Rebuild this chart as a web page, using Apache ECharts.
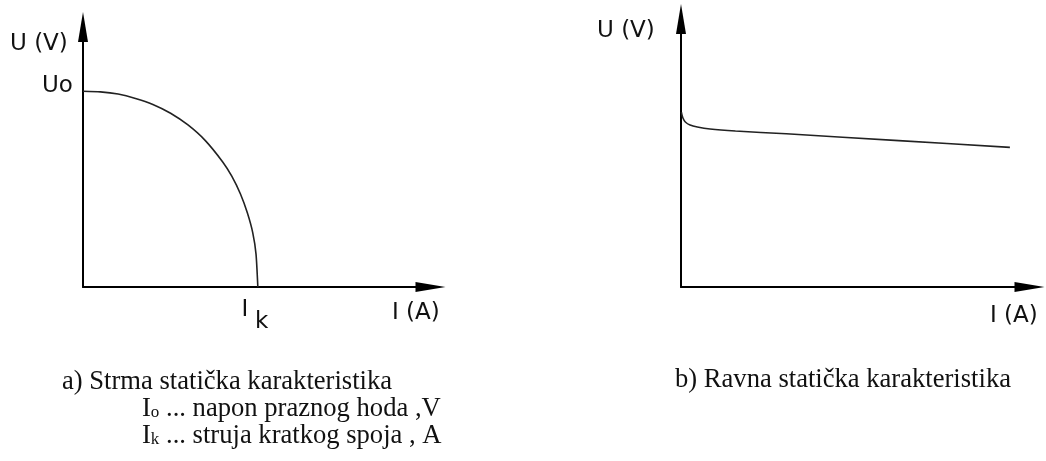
<!DOCTYPE html>
<html>
<head>
<meta charset="utf-8">
<script src="https://cdn.jsdelivr.net/npm/echarts@6/dist/echarts.min.js"></script>
<style>
html,body{margin:0;padding:0;background:#fff;}
#c{width:1046px;height:461px;}
</style>
</head>
<body>
<div id="c"></div>
<script>
// Left chart: steep static characteristic (current I, voltage U)
const steepI = [0, 0.48, 0.97, 1.45, 1.93, 2.42, 2.90, 3.38, 3.86, 4.11, 4.35, 4.54, 4.69, 4.78, 4.83];
const steepU = [7.15, 7.13, 7.05, 6.89, 6.67, 6.35, 5.92, 5.35, 4.57, 4.05, 3.40, 2.71, 1.98, 1.20, 0];
// Right chart: flat static characteristic
const flatI = [0.01, 0.05, 0.12, 0.25, 0.45, 0.8, 1.5, 2.9, 6.0, 9.06];
const flatU = [6.2, 6.0, 5.85, 5.74, 5.67, 5.6, 5.53, 5.43, 5.19, 4.95];
// Texts
const axisYLabel = 'U (V)';
const axisXLabel = 'I (A)';
const captionA = ['a) Strma statička karakteristika', '... napon praznog hoda ,V', '... struja kratkog spoja , A'];
const captionB = 'b) Ravna statička karakteristika';

const steepData = steepI.map((v, i) => [v, steepU[i]]);
const flatData = flatI.map((v, i) => [v, flatU[i]]);

const chart = echarts.init(document.getElementById('c'));
const axisLine = {
  show: true,
  onZero: false,
  symbol: ['none', 'triangle'],
  symbolSize: [10, 30],
  lineStyle: { color: '#000', width: 2 }
};
const hiddenBits = {
  axisTick: { show: false },
  axisLabel: { show: false },
  splitLine: { show: false }
};
const sans = '"DejaVu Sans", sans-serif';
const serif = '"Liberation Serif", "Times New Roman", serif';
const capSize = 26.6;
function txt(text, x, y, size, family, align) {
  return {
    type: 'text', x: x, y: y,
    style: { text: text, fontSize: size, fontFamily: family, fill: '#111', align: align || 'left', verticalAlign: 'middle' }
  };
}
function subCaption(sub, text, y) {
  return {
    type: 'text', x: 142, y: y,
    style: { text: '{m|I}{s|' + sub + '} ' + text, fontSize: capSize, fontFamily: serif, fill: '#111', verticalAlign: 'middle',
      rich: { m: { fontSize: capSize, fontFamily: serif, fill: '#111' },
              s: { fontSize: 17, fontFamily: serif, fill: '#111', padding: [8, 0, 0, 0] } } }
  };
}
chart.setOption({
  animation: false,
  backgroundColor: '#fff',
  grid: [
    { left: 83, top: 27, width: 347.5, height: 260 },
    { left: 681, top: 19, width: 348.5, height: 268 }
  ],
  xAxis: [
    Object.assign({ type: 'value', gridIndex: 0, min: 0, max: 9.6, axisLine: axisLine }, hiddenBits),
    Object.assign({ type: 'value', gridIndex: 1, min: 0, max: 9.6, axisLine: axisLine }, hiddenBits)
  ],
  yAxis: [
    Object.assign({ type: 'value', gridIndex: 0, min: 0, max: 9.5, axisLine: axisLine }, hiddenBits),
    Object.assign({ type: 'value', gridIndex: 1, min: 0, max: 9.5, axisLine: axisLine }, hiddenBits)
  ],
  series: [
    { type: 'line', xAxisIndex: 0, yAxisIndex: 0, data: steepData, symbol: 'none', smooth: 0.2,
      lineStyle: { color: '#222', width: 1.6 } },
    { type: 'line', xAxisIndex: 1, yAxisIndex: 1, data: flatData, symbol: 'none', smooth: 0.3,
      lineStyle: { color: '#222', width: 1.6 } }
  ],
  graphic: [
    txt(axisYLabel, 10, 44, 23, sans),
    txt('Uo', 42, 86, 23, sans),
    txt('I', 245, 310, 23, sans, 'center'),
    txt('k', 255, 322, 23, sans),
    txt(axisXLabel, 392, 313, 23, sans),
    txt(axisYLabel, 597, 31, 23, sans),
    txt(axisXLabel, 990, 316, 23, sans),
    txt(captionA[0], 62, 382, capSize, serif),
    subCaption('o', captionA[1], 409),
    subCaption('k', captionA[2], 436),
    txt(captionB, 675, 380, capSize, serif)
  ]
});
</script>
</body>
</html>
